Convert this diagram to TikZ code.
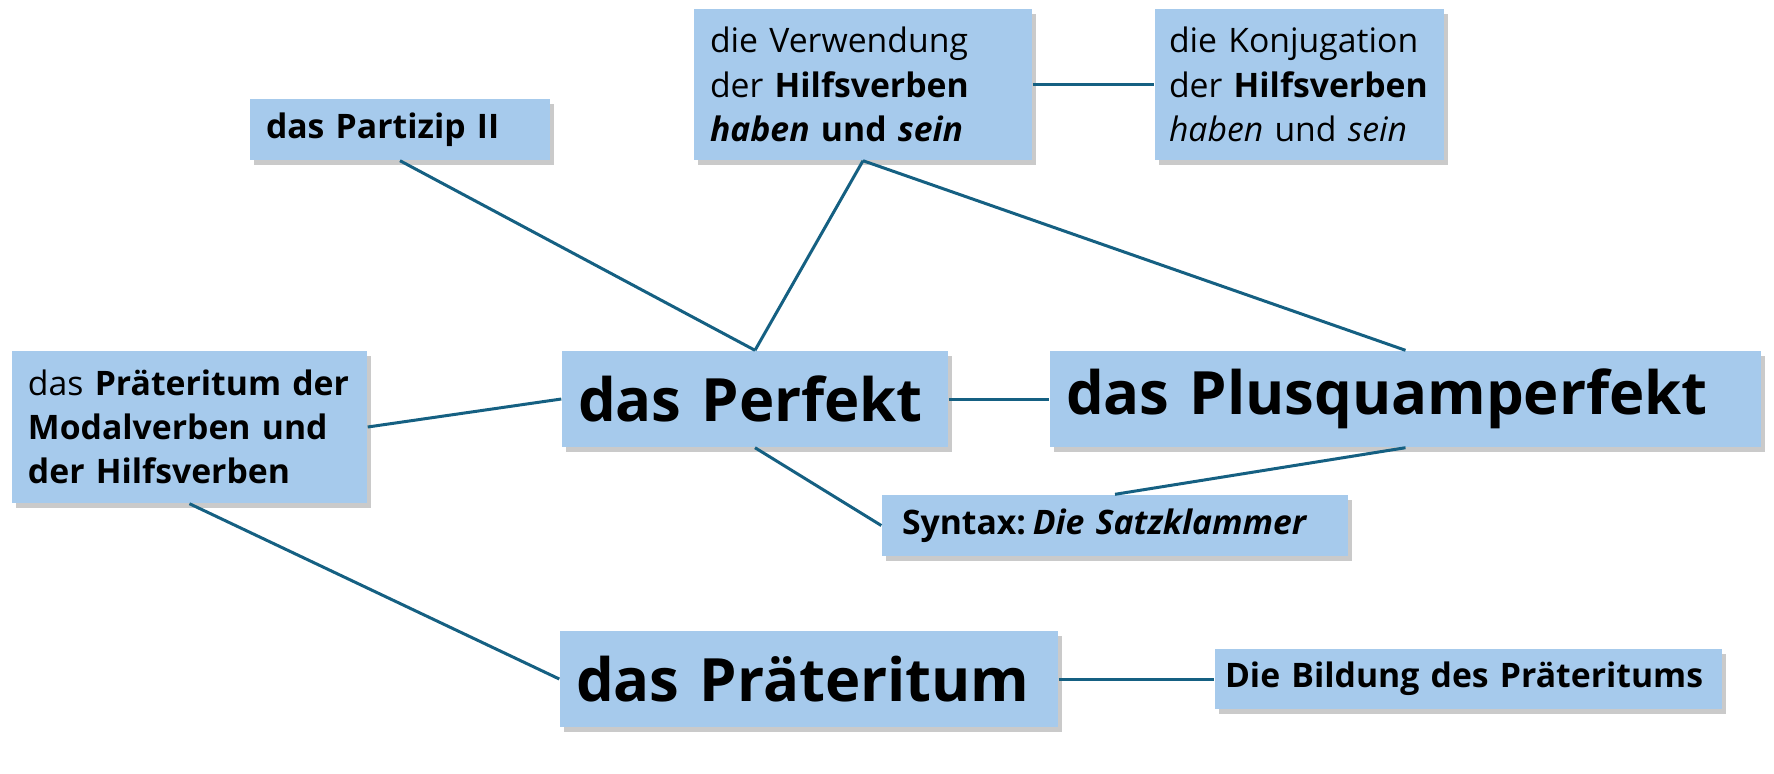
\documentclass[tikz,border=0pt]{standalone}
\usepackage{fontspec}
\setmainfont{Open Sans}
\usepackage{tikz}
\usetikzlibrary{shadows, math}

\definecolor{boxblue}{HTML}{A6CAEC}
\definecolor{linkteal}{HTML}{156082}

\tikzset{
    topic/.style={rectangle, fill=boxblue, inner xsep=0.16cm, inner ysep=0pt, align=left,
        font=\fontsize{9.6}{12.6}\selectfont, execute at begin node={\hyphenpenalty=10000},
        drop shadow={shadow xshift=0.04cm, shadow yshift=-0.05cm, opacity=0.35, fill=black!60}},
    tense/.style={topic, font=\fontsize{17}{20}\selectfont\bfseries},
    link/.style={draw=linkteal, line width=0.03cm}
}

\begin{document}
\begin{tikzpicture}
    \tikzmath{\yTop = -0.845; \yMid = -3.99; \yLow = -6.79;}
    \useasboundingbox (0,0) rectangle (17.74,-7.73);

    \node[topic, text width=2.68cm, minimum height=0.61cm](partizip) at (4.00,-1.295) {\textbf{das Partizip II}};

    \node[topic, text width=3.06cm, minimum height=1.51cm](verwendung) at (8.63,\yTop) {die Verwendung\\der \textbf{Hilfsverben}\\\textbf{\textit{haben} und \textit{sein}}};

    \node[topic, inner xsep=0.14cm, text width=2.61cm, minimum height=1.51cm](konjugation) at (12.995,\yTop) {die Konjugation\\der \textbf{Hilfsverben}\\\textit{haben} und \textit{sein}};

    \node[topic, text width=3.23cm, minimum height=1.52cm](modal-praet) at (1.895,-4.27) {das \textbf{Präteritum der}\\\textbf{Modalverben und}\\\textbf{der Hilfsverben}};

    \node[tense, text width=3.54cm, minimum height=0.96cm](perfekt) at (7.55,\yMid) {das Perfekt};

    \node[tense, text width=6.79cm, minimum height=0.96cm](plusquam) at (14.055,\yMid) {das Plusquamperfekt};

    \node[topic, inner xsep=0.2cm, text width=4.26cm, minimum height=0.61cm](syntax) at (11.15,-5.255) {\textbf{Syntax:\kern0.2em\textit{Die Satzklammer}}};

    \node[tense, text width=4.66cm, minimum height=0.96cm](praet) at (8.09,\yLow) {das Präteritum};

    \node[topic, inner xsep=0.1cm, text width=4.87cm, minimum height=0.60cm](bildung) at (14.685,\yLow) {\textbf{Die Bildung des Präteritums}};

    \draw[link] (partizip.south) -- (perfekt.north);
    \draw[link] (verwendung.south) -- (perfekt.north);
    \draw[link] (verwendung.south) -- (plusquam.north);
    \draw[link] (verwendung.east) -- (konjugation.west);
    \draw[link] (modal-praet.east) -- (perfekt.west);
    \draw[link] (modal-praet.south) -- (praet.west);
    \draw[link] (perfekt.east) -- (plusquam.west);
    \draw[link] (perfekt.south) -- (syntax.west);
    \draw[link] (plusquam.south) -- (syntax.north);
    \draw[link] (praet.east) -- (bildung.west);
\end{tikzpicture}
\end{document}
